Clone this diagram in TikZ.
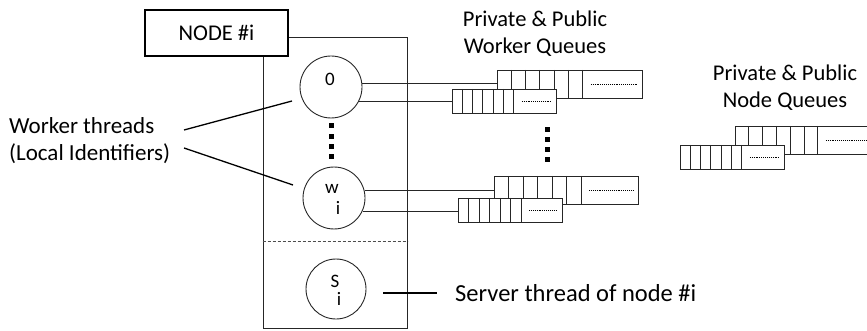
\documentclass[tikz,border=0pt]{standalone}
\usepackage{fontspec}
\setmainfont{Carlito}
\usetikzlibrary{calc}
\newcommand\queuedraw[6]{%
  \node[qcell, minimum width=#4pt, minimum height=#5pt] (#1) at (#2,#3) {};
  \foreach \k in {1,...,6}
    \draw[ln] ($(#1.north west)+(\k*#6,0)$) -- ($(#1.south west)+(\k*#6,0)$);
  \draw[densely dotted, line width=0.9pt] ($(#1.west)+(6*#6+8,0)$) -- ($(#1.west)+(#4-5,0)$);
}
\begin{document}
\begin{tikzpicture}[x=1pt,y=-1pt,
  every node/.style={font=\fontsize{22.5}{27}\selectfont, inner sep=0pt},
  ln/.style={line width=1pt, draw=black!85},
  thread/.style={circle, draw=black!85, line width=0.9pt, minimum size=62pt, inner sep=0pt},
  qcell/.style={draw=black!85, line width=1pt, fill=white, inner sep=0pt, anchor=north west},
  sq/.style={fill=black, minimum size=5pt, inner sep=0pt},
  small/.style={font=\fontsize{19}{22}\selectfont},
]
\useasboundingbox (0,0) rectangle (867,331);

% node container
\node[draw=black!85, line width=1pt, minimum width=144pt, minimum height=290pt] (nbox) at (335,183) {};
\draw[densely dashed, line width=0.9pt, black!70] ([yshift=-58pt]nbox.west) -- ([yshift=-58pt]nbox.east);
\node[draw=black, line width=2.2pt, fill=white, minimum width=143pt, minimum height=46pt] (title) at (216.5,33) {NODE \#i};

% threads
\node[thread] (c0) at (331,87) {};
\node[small] (t0) at (330,79) {0};
\node[thread] (cw) at (334,198) {};
\node[small] (tw) at ($(cw)+(-2,-9)$) {w};
\node[small] (twi) at ($(cw)+(4,10)$) {i};
\node[thread, minimum size=60pt] (cs) at (336,289) {};
\node[small] (ts) at ($(cs)+(-1,-8)$) {S};
\node[small] (tsi) at ($(cs)+(3,10)$) {i};

\foreach \y [count=\k] in {126,137,147,157} \node[sq] (d\k) at (331,\y) {};
\foreach \y [count=\k] in {130,140,150,160} \node[sq] (e\k) at (547,\y) {};

% worker queues
\queuedraw{qa}{497}{70}{145}{28}{14.3}
\queuedraw{qb}{452}{89}{104}{24}{10.3}
\queuedraw{qc}{494}{176}{144}{28}{14.5}
\queuedraw{qd}{458}{198}{104}{24}{10.5}
% node queues
\queuedraw{qe}{735}{126}{145}{28}{13.8}
\queuedraw{qf}{680}{145}{104}{24}{10.3}

% connectors
\draw[ln] (c0.7) -- (c0.7 -| qa.west);
\draw[ln] (c0.-28) -- (c0.-28 -| qb.west);
\draw[ln] (cw.13) -- (cw.13 -| qc.west);
\draw[ln] (cw.-25) -- (cw.-25 -| qd.west);

% labels
\node[align=center] (wq) at (535,34) {Private \& Public\\Worker Queues};
\node[align=center] (nq) at (785,88) {Private \& Public\\Node Queues};
\node[anchor=west, align=left, font=\fontsize{23}{27}\selectfont] (lbl) at (9,141) {Worker threads\\(Local Identifiers)};
\coordinate (l1a) at (184,130);
\coordinate (l1b) at (292,101);
\coordinate (l2a) at (184,148);
\coordinate (l2b) at (293,185);
\draw[line width=1.3pt] (l1a) -- (l1b);
\draw[line width=1.3pt] (l2a) -- (l2b);

\node[anchor=west, font=\fontsize{24.5}{28}\selectfont] (srv) at (455,293) {Server thread of node \#i};
\draw[line width=2pt] ($(cs.east)+(17,4)$) -- ($(srv.west)+(-18,0)$);
\end{tikzpicture}
\end{document}
